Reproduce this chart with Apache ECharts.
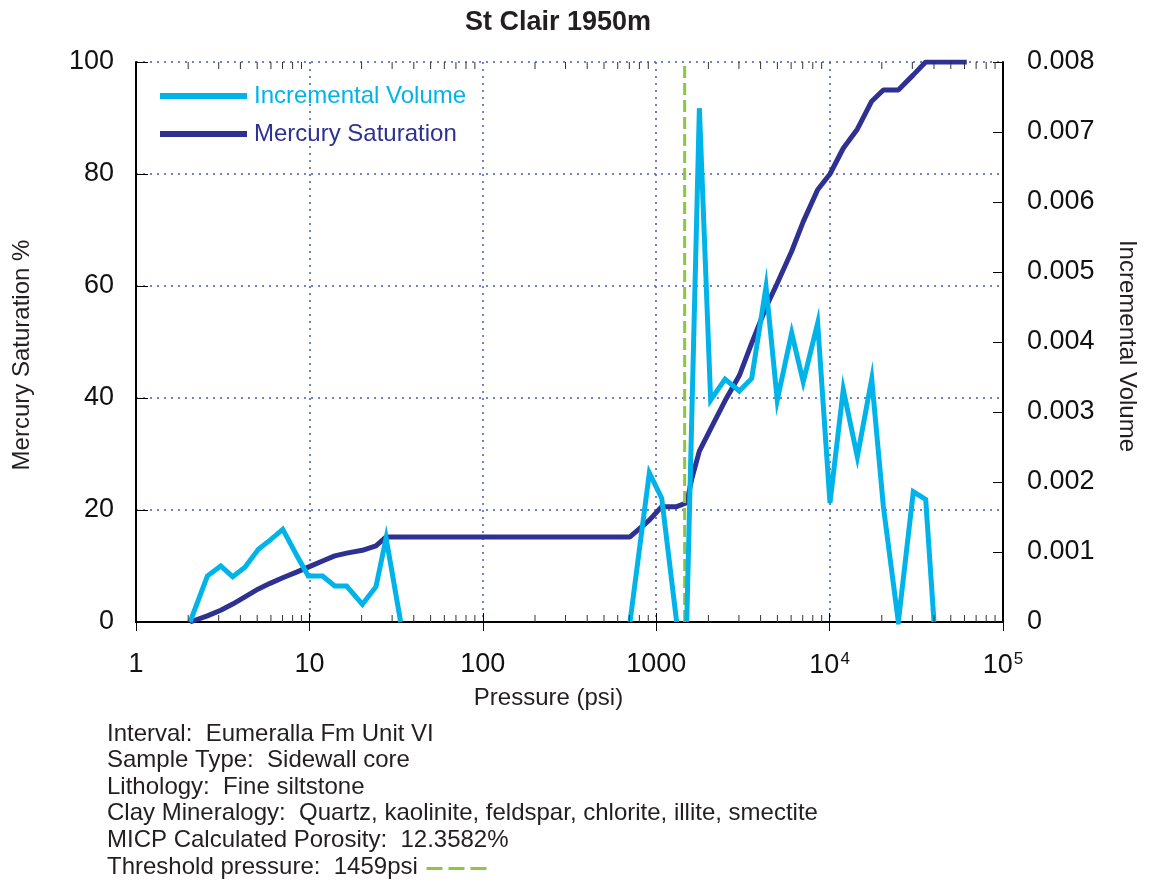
<!DOCTYPE html>
<html>
<head>
<meta charset="utf-8">
<script src="https://cdn.jsdelivr.net/npm/echarts@6/dist/echarts.min.js"></script>
<style>
html,body{margin:0;padding:0;background:#fff;}
#chart{width:1153px;height:884px;}
</style>
</head>
<body>
<div id="chart"></div>
<script>
// ---- data ----
const titleText = 'St Clair 1950m';
const xTickLabels = ['1', '10', '100', '1000', '10^4', '10^5'];
const thresholdPressure = 1459;

// Incremental volume (right axis); null = gap in the curve
const incPressure = [2.05, 2.58, 3.08, 3.61, 4.25, 5.08, 5.93, 7.02, 8.43, 9.85, 11.9, 14.0, 16.4, 20.2, 24.2, 27.7, 33.6,
  null, 706, 913, 1076, 1312,
  null, 1500, 1774, 2061, 2493, 3016, 3555, 4299, 4991, 6043, 7047, 8533, 10050, 11990, 14450, 17500, 20420, 24910, 30390, 35830, 40000];
const incVolume = [0, 0.000657, 0.0008, 0.000647, 0.000781, 0.00104, 0.00117, 0.001324, 0.000957, 0.000657, 0.000657, 0.000514, 0.000514, 0.000253, 0.000504, 0.0012, 0,
  null, 0, 0.00213, 0.00177, 0,
  null, 0, 0.00734, 0.00317, 0.00347, 0.0033, 0.00348, 0.00479, 0.00317, 0.00413, 0.00343, 0.00427, 0.0017, 0.00332, 0.00236, 0.00347, 0.00165, 0, 0.00186, 0.00175, 0];

// Mercury saturation (left axis)
const hgPressure = [2.05, 2.58, 3.08, 3.61, 4.25, 5.08, 5.93, 7.02, 8.43, 9.85, 11.9, 14.0, 16.4, 20.2, 24.2, 27.7, 33.6,
  706, 913, 1076, 1312, 1500, 1602, 1774, 2061, 2493, 3016, 3555, 4299, 4991, 6043, 7047, 8533, 10050, 11990, 14450,
  17500, 20420, 24910, 30390, 35830, 40000, 50000, 61800];
const hgSaturation = [0, 1.1, 2.1, 3.2, 4.5, 5.9, 6.9, 7.9, 8.9, 9.8, 10.9, 11.8, 12.3, 12.8, 13.6, 15.2, 15.2,
  15.2, 18.2, 20.6, 20.6, 21.3, 25.5, 30.5, 34.5, 39.5, 44, 49.8, 56.2, 60.5, 66.2, 71.5, 77.2, 80, 84.6, 88,
  93, 95, 95, 97.7, 100, 100, 100, 100];

const infoLines = [
  'Interval:  Eumeralla Fm Unit VI',
  'Sample Type:  Sidewall core',
  'Lithology:  Fine siltstone',
  'Clay Mineralogy:  Quartz, kaolinite, feldspar, chlorite, illite, smectite',
  'MICP Calculated Porosity:  12.3582%',
  'Threshold pressure:  1459psi'
];

// ---- build ----
const FONT = "'Liberation Sans', Arial, Helvetica, sans-serif";
const CYAN = '#00b4ea';
const NAVY = '#2e3192';
const GREEN = '#8dc63f';
const GRIDC = '#4b57b3';

const minorTicks = [];
for (let d = 1; d < 100000; d *= 10) {
  for (let m = 2; m <= 9; m++) minorTicks.push([d * m, 0]);
}

const incData = incPressure.map((p, i) => (p === null ? [null, null] : [p, incVolume[i]]));
const hgData = hgPressure.map((p, i) => [p, hgSaturation[i]]);

const tickLabelMap = {};
[1, 10, 100, 1000, 10000, 100000].forEach((v, i) => {
  const t = xTickLabels[i];
  tickLabelMap[v] = t.indexOf('^') >= 0 ? '{n|' + t.split('^')[0] + '}{s|' + t.split('^')[1] + '}' : '{n|' + t + '}';
});

const chart = echarts.init(document.getElementById('chart'), null, { renderer: 'canvas' });

const graphics = infoLines.map((line, i) => ({
  type: 'text',
  left: 107,
  top: 722 + i * 26.6,
  style: { text: line, font: '24px ' + FONT, fill: '#231f20' }
}));
graphics.push({
  type: 'line',
  left: 424,
  top: 866,
  shape: { x1: 0, y1: 0, x2: 60, y2: 0 },
  style: { stroke: GREEN, lineWidth: 3, lineDash: [16, 6] }
});

const option = {
  backgroundColor: '#ffffff',
  animation: false,
  textStyle: { fontFamily: FONT },
  title: {
    text: titleText,
    left: 465,
    top: 9,
    padding: 0,
    textStyle: { fontSize: 27, fontWeight: 'bold', color: '#231f20', fontFamily: FONT }
  },
  legend: {
    orient: 'vertical',
    left: 160,
    top: 84,
    padding: 0,
    itemWidth: 87,
    itemHeight: 6,
    itemGap: 14,
    icon: 'rect',
    textStyle: { fontSize: 24, fontFamily: FONT, padding: [0, 0, 0, 2] },
    data: [
      { name: 'Incremental Volume', textStyle: { color: CYAN } },
      { name: 'Mercury Saturation', textStyle: { color: NAVY } }
    ]
  },
  grid: { left: 136, right: 150, top: 62, bottom: 262, containLabel: false },
  xAxis: [
    {
      type: 'log', logBase: 10, min: 1, max: 100000, position: 'bottom',
      name: 'Pressure (psi)', nameLocation: 'middle', nameGap: 64,
      nameTextStyle: { fontSize: 24, color: '#231f20', fontFamily: FONT, padding: [0, 42, 0, 0] },
      axisLine: { show: true, lineStyle: { color: '#000', width: 2 } },
      axisTick: { show: true, inside: true, length: 9, lineStyle: { color: '#000', width: 1 } },
      axisLabel: {
        margin: 29,
        formatter: (v) => tickLabelMap[Math.round(v)] || '',
        rich: {
          n: { fontSize: 27, color: '#111', fontFamily: FONT },
          s: { fontSize: 17, color: '#111', fontFamily: FONT, verticalAlign: 'top', padding: [0, 0, 12, 1] }
        }
      },
      splitLine: { show: true, lineStyle: { color: GRIDC, type: [2, 5], width: 1.5 } }
    },
    {
      type: 'log', logBase: 10, min: 1, max: 100000, position: 'top',
      axisLine: { show: true, lineStyle: { color: '#000', width: 2 } },
      axisTick: { show: true, inside: true, length: 9, lineStyle: { color: '#000', width: 1 } },
      axisLabel: { show: false },
      splitLine: { show: false }
    }
  ],
  yAxis: [
    {
      type: 'value', min: 0, max: 100, interval: 20, position: 'left',
      name: 'Mercury Saturation %', nameLocation: 'middle', nameGap: 102,
      nameTextStyle: { fontSize: 24, color: '#231f20', fontFamily: FONT, padding: [0, 26, 0, 0] },
      axisLine: { show: true, lineStyle: { color: '#000', width: 2 } },
      axisTick: { show: true, inside: true, length: 12, lineStyle: { color: '#000', width: 1 } },
      axisLabel: { fontSize: 27, color: '#111', margin: 22, fontFamily: FONT },
      splitLine: { show: true, lineStyle: { color: GRIDC, type: [2, 5], width: 1.5 } }
    },
    {
      type: 'value', min: 0, max: 0.008, interval: 0.001, position: 'right',
      name: 'Incremental Volume', nameLocation: 'middle', nameGap: 112, nameRotate: -90,
      nameTextStyle: { fontSize: 24, color: '#231f20', fontFamily: FONT, padding: [0, 0, 0, 8] },
      axisLine: { show: true, lineStyle: { color: '#000', width: 2 } },
      axisTick: { show: true, inside: true, length: 10, lineStyle: { color: '#000', width: 1 } },
      axisLabel: { fontSize: 27, color: '#111', margin: 24, fontFamily: FONT },
      splitLine: { show: false }
    }
  ],
  series: [
    {
      name: 'Mercury Saturation', type: 'line', xAxisIndex: 0, yAxisIndex: 0,
      data: hgData, symbol: 'none', color: NAVY, z: 3,
      lineStyle: { width: 5, color: NAVY }
    },
    {
      name: 'Threshold', type: 'line', xAxisIndex: 0, yAxisIndex: 0,
      data: [[thresholdPressure, 0], [thresholdPressure, 100]], symbol: 'none', z: 4,
      color: GREEN,
      lineStyle: { width: 3, color: GREEN, type: [12, 5] }
    },
    {
      name: 'Incremental Volume', type: 'line', xAxisIndex: 0, yAxisIndex: 1,
      data: incData, symbol: 'none', color: CYAN, z: 5, connectNulls: false,
      lineStyle: { width: 5, color: CYAN, join: 'miter' }
    },
    {
      name: 'minorTicks', type: 'custom', xAxisIndex: 0, yAxisIndex: 0, silent: true, z: 6,
      data: minorTicks,
      encode: { x: 0, y: 1 },
      renderItem: function (params, api) {
        const p = api.value(0);
        const b = api.coord([p, 0]);
        const t = api.coord([p, 100]);
        return {
          type: 'group',
          children: [
            { type: 'line', shape: { x1: b[0], y1: b[1], x2: b[0], y2: b[1] - 7 }, style: { stroke: '#333', lineWidth: 1 } },
            { type: 'line', shape: { x1: t[0], y1: t[1], x2: t[0], y2: t[1] + 7 }, style: { stroke: '#333', lineWidth: 1 } }
          ]
        };
      }
    }
  ],
  graphic: graphics
};

chart.setOption(option);
</script>
</body>
</html>
